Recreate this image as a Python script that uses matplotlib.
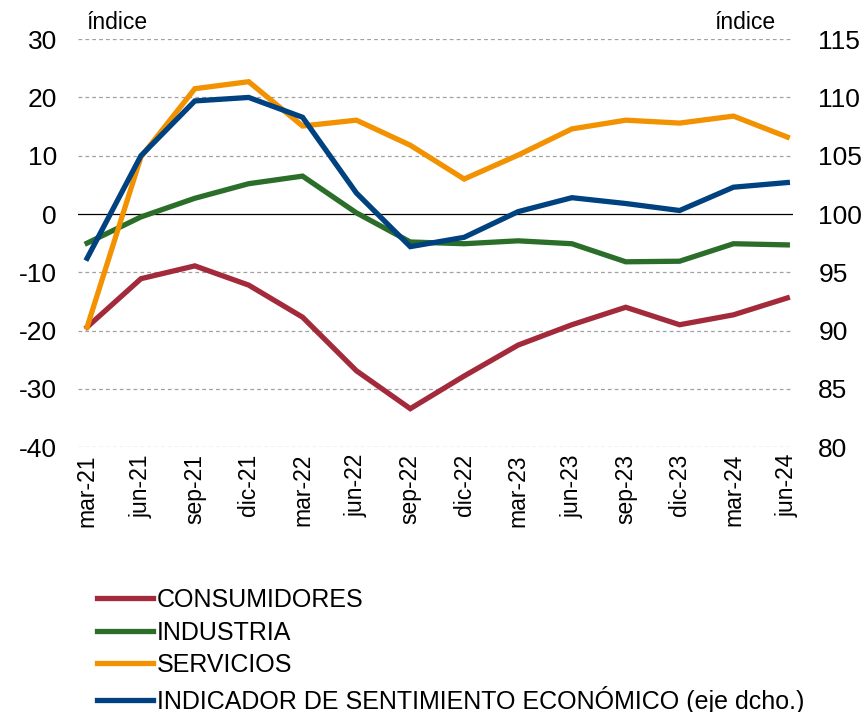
import matplotlib
matplotlib.use("Agg")
import matplotlib.pyplot as plt
from matplotlib.lines import Line2D

plt.rcParams['font.family'] = ['Liberation Sans', 'DejaVu Sans']
plt.rcParams['axes.unicode_minus'] = False

dates = ["mar-21", "jun-21", "sep-21", "dic-21", "mar-22", "jun-22", "sep-22",
         "dic-22", "mar-23", "jun-23", "sep-23", "dic-23", "mar-24", "jun-24"]
consumidores = [-19.4, -11.1, -8.9, -12.2, -17.7, -26.9, -33.4, -27.8, -22.5,
                -19.0, -16.0, -19.0, -17.3, -14.4]
industria = [-5.0, -0.5, 2.7, 5.2, 6.5, 0.2, -4.8, -5.1, -4.6, -5.1, -8.2,
             -8.1, -5.1, -5.3]
servicios = [-19.4, 9.8, 21.5, 22.7, 15.1, 16.1, 11.8, 6.0, 10.1, 14.6, 16.1,
             15.6, 16.8, 13.2]
esi = [96.2, 105.0, 109.7, 110.0, 108.3, 101.8, 97.2, 98.0, 100.2, 101.4,
       100.9, 100.3, 102.3, 102.7]

left_ticks = [30, 20, 10, 0, -10, -20, -30, -40]
right_ticks = [115, 110, 105, 100, 95, 90, 85, 80]

c_red = "#A32A3B"
c_green = "#2A6E2A"
c_orange = "#F39200"
c_blue = "#00427F"

fig = plt.figure(figsize=(8.66, 7.12), dpi=100)
ax = fig.add_axes([0.090, 0.372, 0.826, 0.573])
ax2 = ax.twinx()

x = list(range(len(dates)))
lw = 3.8

for t in left_ticks:
    if t == 0:
        ax.axhline(t, color="black", lw=0.9, zorder=1)
    else:
        ax.axhline(t, color="#A0A0A0", lw=0.9, ls=(0, (3, 2.5)), zorder=1)

ax.plot(x, consumidores, color=c_red, lw=lw, zorder=3, solid_joinstyle='miter')
ax.plot(x, industria, color=c_green, lw=lw, zorder=3, solid_joinstyle='miter')
ax.plot(x, servicios, color=c_orange, lw=lw, zorder=3, solid_joinstyle='miter')
ax2.plot(x, esi, color=c_blue, lw=lw, zorder=4, solid_joinstyle='miter')

ax.set_ylim(-40, 30)
ax2.set_ylim(80, 115)
ax.set_xlim(-0.17, 13.11)
ax.set_yticks(left_ticks)
ax2.set_yticks(right_ticks)
ax.set_xticks(x)
ax.set_xticklabels(dates, rotation=90, fontsize=16.5)
ax.tick_params(axis='y', length=0, labelsize=19, pad=15)
ax2.tick_params(axis='y', length=0, labelsize=19, pad=18)
ax.tick_params(axis='x', length=0, pad=5)
for a in (ax, ax2):
    for s in a.spines.values():
        s.set_visible(False)

ax.text(0.012, 1.012, "índice", transform=ax.transAxes, fontsize=16.5, ha='left', va='bottom')
ax.text(0.975, 1.012, "índice", transform=ax.transAxes, fontsize=16.5, ha='right', va='bottom')

handles = [Line2D([], [], color=c_red, lw=lw),
           Line2D([], [], color=c_green, lw=lw),
           Line2D([], [], color=c_orange, lw=lw),
           Line2D([], [], color=c_blue, lw=lw)]
labels = ["CONSUMIDORES", "INDUSTRIA", "SERVICIOS",
          "INDICADOR DE SENTIMIENTO ECONÓMICO (eje dcho.)"]
fig.legend(handles, labels, loc='upper left', bbox_to_anchor=(0.112, 0.174),
           frameon=False, fontsize=18, handlelength=2.25, handletextpad=0.16,
           labelspacing=0.34, borderaxespad=0, borderpad=0)

fig.savefig("out.png", dpi=100)
